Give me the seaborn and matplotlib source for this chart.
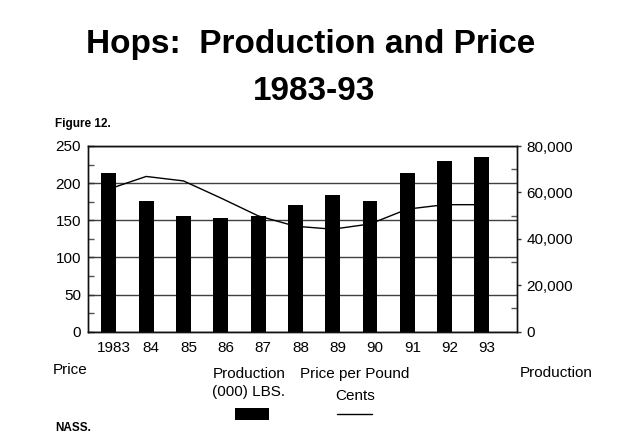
import matplotlib
matplotlib.use("Agg")
import matplotlib.pyplot as plt
import matplotlib.transforms as mtransforms
import seaborn as sns
import pandas as pd
import numpy as np
from matplotlib.ticker import MultipleLocator, FuncFormatter

# ---- data ----
years = ["1983", "84", "85", "86", "87", "88", "89", "90", "91", "92", "93"]
production = [68500, 56500, 49700, 49000, 50000, 54400, 59000, 56500, 68500, 73700, 75100]  # (000) lbs
price = [192, 209, 203, 180, 156, 142, 138, 145, 165, 171, 171]  # cents per pound
left_ticks = [0, 50, 100, 150, 200, 250]
right_ticks = [0, 20000, 40000, 60000, 80000]

df = pd.DataFrame({"year": years, "production": production, "price": price})

sns.set_theme(style="white")
plt.rcParams["font.family"] = ["Liberation Sans", "DejaVu Sans"]
plt.rcParams["text.color"] = "black"
plt.rcParams["xtick.color"] = "black"
plt.rcParams["ytick.color"] = "black"
plt.rcParams["axes.labelcolor"] = "black"

W, H = 617, 434
fig = plt.figure(figsize=(W / 100, H / 100), dpi=100)
fig.patch.set_facecolor("white")

L, R, T, B = 88, 517, 146, 331.7
ax = fig.add_axes([L / W, 1 - B / H, (R - L) / W, (B - T) / H])
ax2 = ax.twinx()

# price line on left axis
sns.lineplot(data=df, x="year", y="price", ax=ax, color="black", linewidth=1.0,
             sort=False, legend=False)
# production bars on right axis
sns.barplot(data=df, x="year", y="production", ax=ax2, color="black", width=0.4,
            saturation=1, edgecolor="black", linewidth=0)

ax.set_ylim(0, 250)
ax2.set_ylim(0, 80000)
ax.set_xlim(-0.56, 10.94)
ax2.set_xlim(-0.56, 10.94)

ax.set_yticks(left_ticks)
ax.yaxis.set_minor_locator(MultipleLocator(25))
ax2.set_yticks(right_ticks)
ax2.yaxis.set_minor_locator(MultipleLocator(10000))
ax2.yaxis.set_major_formatter(FuncFormatter(lambda v, p: f"{int(v):,}"))

ax.grid(axis="y", which="major", color="#404040", linewidth=1.0)
ax.grid(axis="x", visible=False)
ax2.grid(False)
ax.set_axisbelow(True)

ax.set_xlabel("")
ax.set_ylabel("")
ax2.set_xlabel("")
ax2.set_ylabel("")

ax.tick_params(axis="y", which="major", direction="in", length=4, width=1, color="#333333",
               labelsize=11, pad=5, labelcolor="black", left=True)
ax.tick_params(axis="y", which="minor", direction="in", length=4, width=1, color="#555555", left=True)
ax.tick_params(axis="x", length=0, labelsize=11, pad=7, labelcolor="black")
ax2.tick_params(axis="y", which="major", direction="out", length=3, width=1, color="#333333",
                labelsize=11, pad=4, labelcolor="black", right=True)
ax2.tick_params(axis="y", which="minor", direction="in", length=4, width=1, color="#555555", right=True)
ax2.tick_params(axis="x", length=0, labelbottom=False)

# x labels sit slightly right of the bar centres in the reference
offset = mtransforms.ScaledTranslation(5 / 100, 0, fig.dpi_scale_trans)
for lbl in ax.get_xticklabels():
    lbl.set_transform(lbl.get_transform() + offset)

for a in (ax, ax2):
    for s in a.spines.values():
        s.set_visible(True)
        s.set_color("#111111")
        s.set_linewidth(1.0)
ax2.patch.set_visible(False)


def ftext(x, y, s, **kw):
    fig.text(x / W, 1 - y / H, s, va="baseline", color="black", **kw)


# title
ftext(311, 53, "Hops:  Production and Price", ha="center", fontsize=24, fontweight="bold")
ftext(314, 100, "1983-93", ha="center", fontsize=24, fontweight="bold")
ftext(55, 127, "Figure 12.", ha="left", fontsize=8.5, fontweight="bold")

# axis titles
ftext(53, 374, "Price", ha="left", fontsize=11)
ftext(520, 377, "Production", ha="left", fontsize=11)

# legend
ftext(249, 378, "Production", ha="center", fontsize=11)
ftext(249, 396, "(000) LBS.", ha="center", fontsize=11)
ftext(355, 378, "Price per Pound", ha="center", fontsize=11)
ftext(355, 400, "Cents", ha="center", fontsize=11)
fig.patches.append(plt.Rectangle((235 / W, 1 - 420 / H), 34 / W, 12 / H,
                                 transform=fig.transFigure, facecolor="black",
                                 edgecolor="none", figure=fig))
fig.add_artist(plt.Line2D([337 / W, 372 / W], [1 - 414 / H, 1 - 414 / H],
                          transform=fig.transFigure, color="black", linewidth=1.0))

ftext(55, 431, "NASS.", ha="left", fontsize=8.5, fontweight="bold")

fig.savefig("out.png", dpi=100, facecolor="white")
